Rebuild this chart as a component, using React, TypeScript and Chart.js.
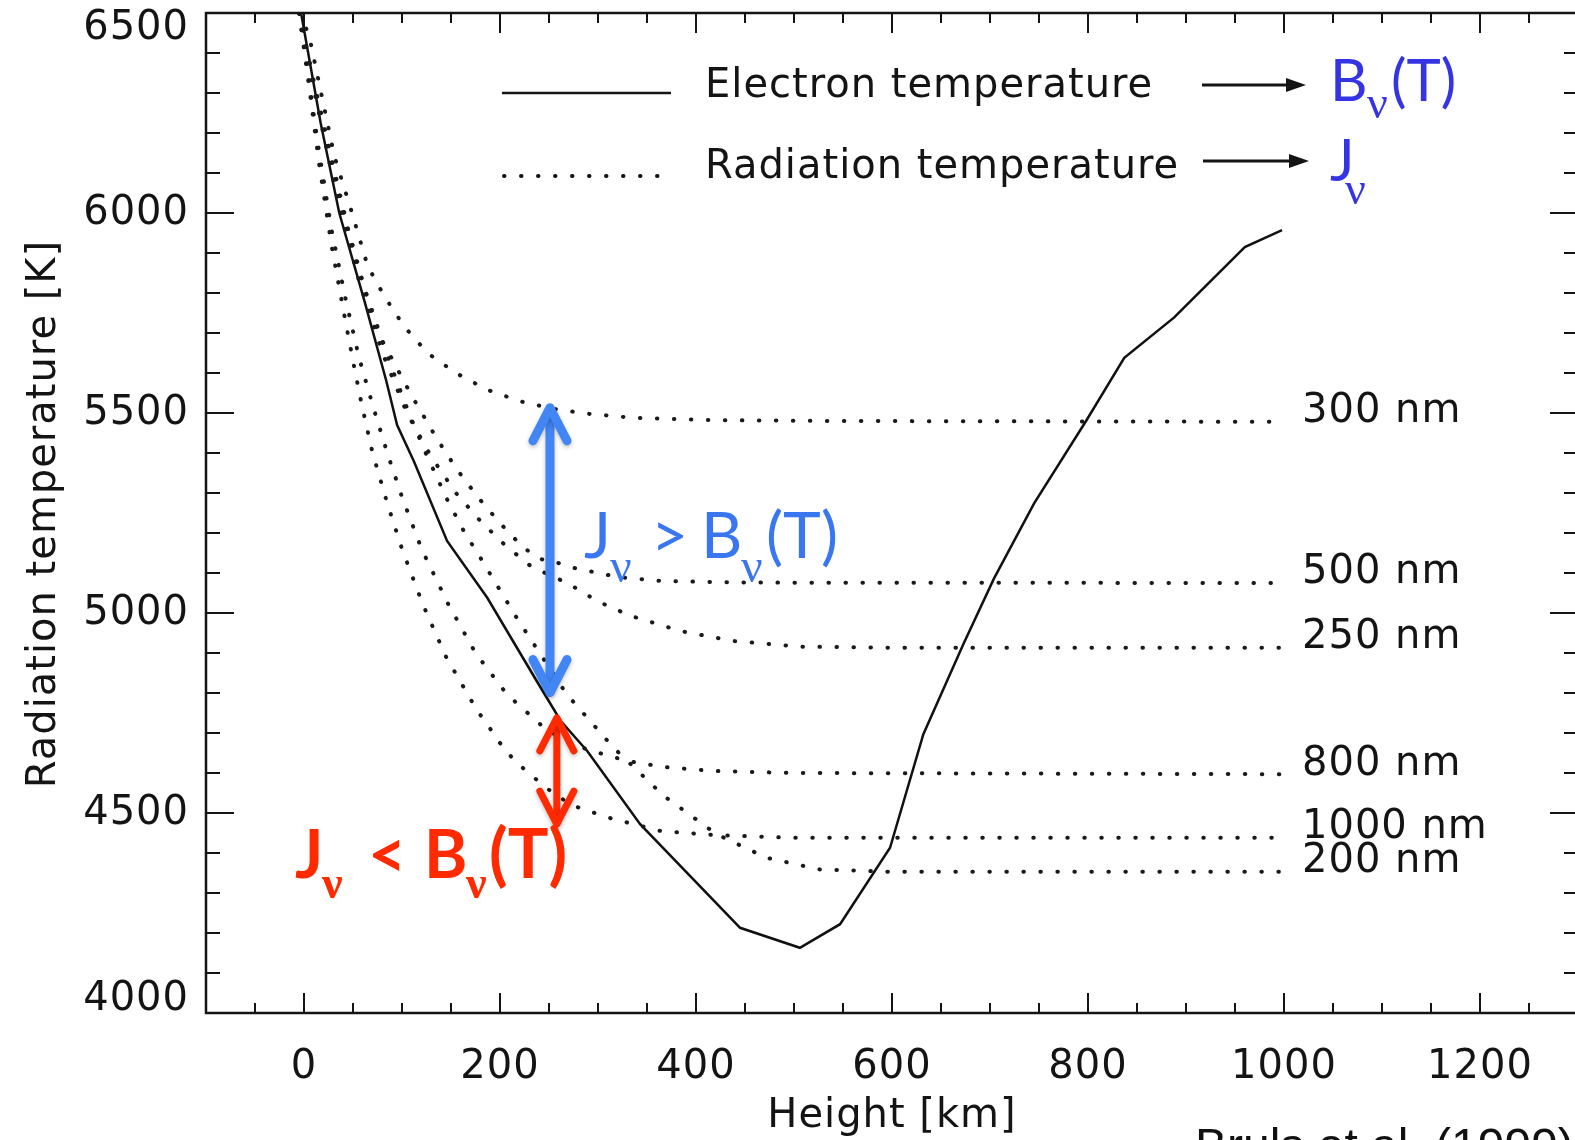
import React, { useEffect, useRef } from "react";
import { Chart, registerables } from "chart.js";
Chart.register(...registerables);

// ---------- axis ticks ----------
const xMajorTicks = [0, 200, 400, 600, 800, 1000, 1200];
const xMinorTicks = [-50, 50, 100, 150, 250, 300, 350, 450, 500, 550, 650, 700, 750, 850, 900, 950, 1050, 1100, 1150, 1250];
const yMajorTicks = [4000, 4500, 5000, 5500, 6000, 6500];
const yMinorTicks = [4100, 4200, 4300, 4400, 4600, 4700, 4800, 4900, 5100, 5200, 5300, 5400, 5600, 5700, 5800, 5900, 6100, 6200, 6300, 6400];

// ---------- electron temperature (solid) ----------
const hElectron = [-3, 17, 36, 62, 84, 95, 112, 146, 187, 235, 262, 289, 343, 445, 506, 547, 598, 632, 673, 704, 745, 798, 837, 888, 960, 998];
const tElectron = [6500, 6225, 6000, 5777, 5580, 5470, 5380, 5180, 5038, 4840, 4730, 4655, 4472, 4213, 4163, 4222, 4413, 4697, 4923, 5086, 5274, 5480, 5638, 5739, 5915, 5957];

// ---------- radiation temperatures (dotted) ----------
const h300 = [-5, 5, 31, 48, 65, 82, 102, 126, 155, 187, 221, 255, 290, 336, 420, 550, 1000];
const t300 = [6500, 6446, 6142, 6008, 5867, 5792, 5717, 5650, 5600, 5558, 5529, 5510, 5498, 5488, 5482, 5480, 5478];

const h500 = [-5, 10, 30, 55, 80, 109, 136, 156, 178, 201, 224, 241, 258, 275, 320, 364, 450, 1000];
const t500 = [6500, 6320, 6100, 5860, 5680, 5547, 5434, 5359, 5288, 5222, 5163, 5135, 5126, 5113, 5090, 5080, 5076, 5075];

const h250 = [-5, 10, 30, 55, 80, 105, 130, 155, 180, 205, 230, 250, 268, 285, 299, 333, 384, 438, 506, 600, 1000];
const t250 = [6500, 6310, 6080, 5840, 5650, 5500, 5390, 5300, 5230, 5170, 5120, 5095, 5076, 5051, 5030, 4993, 4955, 4930, 4916, 4913, 4913];

const h200 = [-5, 10, 25, 45, 70, 90, 107, 124, 146, 163, 182, 217, 268, 316, 367, 421, 472, 526, 600, 1000];
const t200 = [6500, 6330, 6170, 5960, 5740, 5610, 5500, 5401, 5284, 5205, 5130, 4988, 4797, 4663, 4543, 4447, 4388, 4359, 4353, 4353];

const h800 = [-5, 5, 15, 28, 42, 56, 70, 85, 100, 120, 147, 175, 207, 245, 270, 294, 330, 367, 418, 500, 1000];
const t800 = [6500, 6330, 6160, 5960, 5790, 5640, 5520, 5400, 5290, 5160, 5023, 4900, 4797, 4713, 4675, 4655, 4630, 4615, 4605, 4600, 4597];

const h1000 = [-5, 5, 15, 28, 40, 50, 59, 70, 85, 100, 121, 145, 167, 177, 187, 197, 215, 235, 255, 275, 311, 364, 418, 500, 1000];
const t1000 = [6500, 6320, 6130, 5920, 5760, 5630, 5520, 5400, 5274, 5160, 5023, 4890, 4797, 4755, 4722, 4684, 4630, 4588, 4548, 4518, 4488, 4455, 4445, 4438, 4438];

const wavelengthLabels = ["300 nm", "500 nm", "250 nm", "800 nm", "1000 nm", "200 nm"];
const labelTemps = [5478, 5075, 4913, 4597, 4438, 4353];

// ---------- annotation arrows ----------
const blueArrowHeight = 251;
const blueArrowTemps = [5513, 4801];
const redArrowHeight = 258;
const redArrowTemps = [4738, 4472];

const toPoints = (hs: number[], ts: number[]) => hs.map((h, i) => ({ x: h, y: ts[i] }));

const TICK_FONT = '40px "DejaVu Sans"';
const INK = "#141414";

function arrowHead(ctx: CanvasRenderingContext2D, x: number, y: number, dir: number, dx: number, dy: number) {
  ctx.beginPath();
  ctx.moveTo(x - dx, y + dir * dy);
  ctx.lineTo(x, y);
  ctx.lineTo(x + dx, y + dir * dy);
  ctx.stroke();
}

function doubleArrow(ctx: CanvasRenderingContext2D, x: number, y1: number, y2: number, color: string, w: number) {
  ctx.save();
  ctx.strokeStyle = color;
  ctx.lineWidth = w;
  ctx.lineCap = "round";
  ctx.lineJoin = "round";
  ctx.shadowColor = "rgba(0,0,0,0.25)";
  ctx.shadowBlur = 4;
  ctx.shadowOffsetY = 2;
  ctx.beginPath();
  ctx.moveTo(x, y1 + 3);
  ctx.lineTo(x, y2 - 3);
  ctx.stroke();
  arrowHead(ctx, x, y1, 1, 17, 33);
  arrowHead(ctx, x, y2, -1, 17, 33);
  ctx.restore();
}

type Piece = { t: string; x: number; y: number; font: string };
function drawPieces(ctx: CanvasRenderingContext2D, pieces: Piece[], color: string) {
  ctx.save();
  ctx.fillStyle = color;
  ctx.textAlign = "left";
  ctx.textBaseline = "alphabetic";
  (ctx as any).letterSpacing = "0px";
  for (const p of pieces) {
    ctx.font = p.font;
    ctx.fillText(p.t, p.x, p.y);
  }
  ctx.restore();
}

const overlayPlugin = {
  id: "overlay",
  afterDraw(chart: any) {
    const { ctx, chartArea: a, scales } = chart;
    const xs = scales.x;
    const ys = scales.y;
    ctx.save();

    // frame
    ctx.strokeStyle = INK;
    ctx.lineWidth = 2.5;
    ctx.strokeRect(a.left, a.top, a.right - a.left, a.bottom - a.top);

    // ticks
    ctx.lineWidth = 2;
    ctx.beginPath();
    const xt = (v: number, len: number) => {
      const px = xs.getPixelForValue(v);
      ctx.moveTo(px, a.bottom);
      ctx.lineTo(px, a.bottom - len);
      ctx.moveTo(px, a.top);
      ctx.lineTo(px, a.top + len);
    };
    const yt = (v: number, len: number) => {
      const py = ys.getPixelForValue(v);
      ctx.moveTo(a.left, py);
      ctx.lineTo(a.left + len, py);
      ctx.moveTo(a.right, py);
      ctx.lineTo(a.right - len, py);
    };
    xMajorTicks.forEach((v) => xt(v, 20));
    xMinorTicks.forEach((v) => xt(v, 10));
    yMajorTicks.forEach((v) => yt(v, 28));
    yMinorTicks.forEach((v) => yt(v, 14));
    ctx.stroke();

    // tick labels
    ctx.fillStyle = INK;
    ctx.font = TICK_FONT;
    (ctx as any).letterSpacing = "1px";
    ctx.textAlign = "center";
    ctx.textBaseline = "alphabetic";
    xMajorTicks.forEach((v) => ctx.fillText(String(v), xs.getPixelForValue(v), a.bottom + 65));
    ctx.textAlign = "right";
    ctx.textBaseline = "middle";
    yMajorTicks.forEach((v) => {
      const py = Math.min(Math.max(ys.getPixelForValue(v), a.top + 15), a.bottom - 14);
      ctx.fillText(String(v), a.left - 17, py + 1);
    });

    // axis titles
    ctx.textAlign = "center";
    ctx.textBaseline = "alphabetic";
    ctx.fillText("Height [km]", (a.left + a.right) / 2, a.bottom + 114);
    ctx.save();
    ctx.translate(55, (a.top + a.bottom) / 2 + 1);
    ctx.rotate(-Math.PI / 2);
    ctx.fillText("Radiation temperature [K]", 0, 0);
    ctx.restore();

    // wavelength labels
    ctx.textAlign = "left";
    ctx.textBaseline = "middle";
    wavelengthLabels.forEach((lab, i) => {
      ctx.fillText(lab, xs.getPixelForValue(1000) + 18, ys.getPixelForValue(labelTemps[i]) - 10);
    });

    // legend
    ctx.textBaseline = "alphabetic";
    ctx.fillText("Electron temperature", 705, 97);
    ctx.fillText("Radiation temperature", 705, 178);
    (ctx as any).letterSpacing = "0px";
    ctx.lineWidth = 2.5;
    ctx.strokeStyle = INK;
    ctx.beginPath();
    ctx.moveTo(502, 93);
    ctx.lineTo(671, 93);
    ctx.stroke();
    ctx.save();
    ctx.lineWidth = 4;
    ctx.lineCap = "round";
    ctx.setLineDash([0.5, 16.5]);
    ctx.beginPath();
    ctx.moveTo(504, 176);
    ctx.lineTo(670, 176);
    ctx.stroke();
    ctx.restore();

    // legend arrows (black)
    const blackArrow = (x1: number, x2: number, y: number) => {
      ctx.lineWidth = 3;
      ctx.beginPath();
      ctx.moveTo(x1, y);
      ctx.lineTo(x2 - 16, y);
      ctx.stroke();
      ctx.beginPath();
      ctx.moveTo(x2, y);
      ctx.lineTo(x2 - 20, y - 7);
      ctx.lineTo(x2 - 20, y + 7);
      ctx.closePath();
      ctx.fill();
    };
    blackArrow(1202, 1306, 85);
    blackArrow(1203, 1309, 161);

    const legBlue = "#3434e4";
    drawPieces(ctx, [
      { t: "B", x: 1330, y: 101, font: '58px Lato' },
      { t: "ν", x: 1367, y: 118, font: '46px "Liberation Serif"' },
      { t: "(T)", x: 1391, y: 101, font: '58px Lato' },
      { t: "J", x: 1330, y: 181, font: '58px Lato' },
      { t: "ν", x: 1345, y: 204, font: '46px "Liberation Serif"' },
    ], legBlue);

    // annotation arrows
    doubleArrow(ctx, xs.getPixelForValue(blueArrowHeight), ys.getPixelForValue(blueArrowTemps[0]), ys.getPixelForValue(blueArrowTemps[1]), "#4285f4", 9);
    doubleArrow(ctx, xs.getPixelForValue(redArrowHeight), ys.getPixelForValue(redArrowTemps[0]), ys.getPixelForValue(redArrowTemps[1]), "#ff2a00", 7);

    // annotation texts
    drawPieces(ctx, [
      { t: "J", x: 584, y: 558, font: '64px Lato' },
      { t: "ν", x: 610, y: 582, font: '48px "Liberation Serif"' },
      { t: ">", x: 651, y: 558, font: '64px Lato' },
      { t: "B", x: 701, y: 558, font: '64px Lato' },
      { t: "ν", x: 741, y: 582, font: '48px "Liberation Serif"' },
      { t: "(T)", x: 766, y: 558, font: '64px Lato' },
    ], "#3b76f1");
    drawPieces(ctx, [
      { t: "J", x: 295, y: 878, font: 'bold 66px Lato' },
      { t: "ν", x: 322, y: 898, font: 'bold 46px "Liberation Serif"' },
      { t: "<", x: 368, y: 878, font: 'bold 66px Lato' },
      { t: "B", x: 424, y: 878, font: 'bold 66px Lato' },
      { t: "ν", x: 466, y: 898, font: 'bold 46px "Liberation Serif"' },
      { t: "(T)", x: 489, y: 878, font: 'bold 68px Lato' },
    ], "#ff2a00");

    // citation (cut at bottom)
    ctx.fillStyle = "#111";
    ctx.font = '48px "Liberation Sans"';
    ctx.textAlign = "left";
    ctx.fillText("Bruls et al. (1999)", 1195, 1162);

    ctx.restore();
  },
};

const dotted = (hs: number[], ts: number[], label: string) => ({
  label,
  data: toPoints(hs, ts),
  showLine: true,
  borderColor: "#1a1a1a",
  borderWidth: 4,
  borderDash: [0.5, 16.5],
  borderCapStyle: "round" as const,
  pointRadius: 0,
  fill: false,
});

export default function App() {
  const ref = useRef<HTMLCanvasElement>(null);
  useEffect(() => {
    if (!ref.current) return;
    const chart = new Chart(ref.current, {
      type: "scatter",
      data: {
        datasets: [
          dotted(h300, t300, "300 nm"),
          dotted(h500, t500, "500 nm"),
          dotted(h250, t250, "250 nm"),
          dotted(h200, t200, "200 nm"),
          dotted(h800, t800, "800 nm"),
          dotted(h1000, t1000, "1000 nm"),
          {
            label: "Electron temperature",
            data: toPoints(hElectron, tElectron),
            showLine: true,
            borderColor: "#111",
            borderWidth: 2.5,
            pointRadius: 0,
            fill: false,
          },
        ],
      },
      options: {
        responsive: false,
        animation: false,
        devicePixelRatio: 1,
        layout: { padding: { left: 206, top: 13, right: 22, bottom: 127 } },
        plugins: { legend: { display: false }, tooltip: { enabled: false } },
        elements: { line: { tension: 0 }, point: { radius: 0 } },
        scales: {
          x: { type: "linear", min: -100, max: 1300, display: false },
          y: { type: "linear", min: 4000, max: 6500, display: false },
        },
      },
      plugins: [overlayPlugin],
    } as any);
    return () => chart.destroy();
  }, []);
  return (
    <div style={{ position: "fixed", left: 0, top: 0, width: 1575, height: 1140, overflow: "hidden", background: "#fff" }}>
      <canvas ref={ref} width={1600} height={1140} style={{ display: "block", width: 1600, height: 1140 }} />
    </div>
  );
}
